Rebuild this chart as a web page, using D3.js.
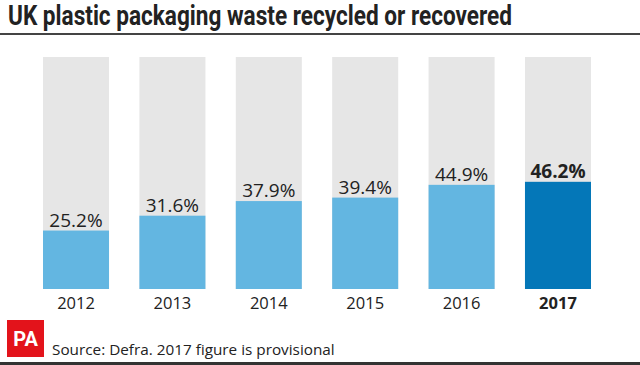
<!DOCTYPE html>
<html><head><meta charset="utf-8">
<script src="https://cdn.jsdelivr.net/npm/d3@7"></script>
<style>body{margin:0;background:#fff}svg{display:block}</style>
</head><body>
<svg id="c" width="640" height="365"></svg>
<script>
const years = ["2012","2013","2014","2015","2016","2017"];
const values = [25.2, 31.6, 37.9, 39.4, 44.9, 46.2];
const highlight = ["2017"];
const title = "UK plastic packaging waste recycled or recovered";
const source = "Source: Defra. 2017 figure is provisional";

const svg = d3.select("#c");
const font = "'Open Sans', 'Noto Sans', sans-serif";
const x = d3.scaleBand().domain(years).range([43, 591]).paddingInner(0.315).paddingOuter(0);
const y = d3.scaleLinear().domain([0, 100]).range([289, 57]);

svg.append("text").attr("x", 8).attr("y", 24.5).text(title)
  .attr("font-family", "'Liberation Sans Narrow','Roboto','Noto Sans',sans-serif")
  .attr("font-weight", "bold").attr("font-size", 27.5).attr("fill", "#222")
  .attr("textLength", 504).attr("lengthAdjust", "spacingAndGlyphs");
svg.append("rect").attr("x", 0).attr("y", 33).attr("width", 640).attr("height", 2).attr("fill", "#444");

const g = svg.append("g");
g.selectAll(".bg").data(years).join("rect")
  .attr("x", d => x(d)).attr("width", x.bandwidth())
  .attr("y", y(100)).attr("height", y(0) - y(100)).attr("fill", "#e6e6e6");
g.selectAll(".bar").data(values).join("rect")
  .attr("x", (d, i) => x(years[i])).attr("width", x.bandwidth())
  .attr("y", d => y(d)).attr("height", d => y(0) - y(d))
  .attr("fill", (d, i) => highlight.includes(years[i]) ? "#0477b8" : "#63b6e1");
g.selectAll(".val").data(values).join("text")
  .attr("x", (d, i) => x(years[i]) + x.bandwidth() / 2).attr("y", d => y(d) - 4)
  .attr("text-anchor", "middle").attr("font-family", font).attr("font-size", 19)
  .attr("font-weight", (d, i) => highlight.includes(years[i]) ? "bold" : "normal")
  .attr("fill", "#222").text(d => d.toFixed(1) + "%");

const axis = d3.axisBottom(x).tickSize(0).tickPadding(8);
const ax = svg.append("g").attr("transform", `translate(0,${y(0)})`).call(axis);
ax.select(".domain").remove();
ax.selectAll("text").attr("font-family", font).attr("font-size", 16.5).attr("fill", "#222")
  .attr("font-weight", d => highlight.includes(d) ? "bold" : "normal");

svg.append("rect").attr("x", 7).attr("y", 320).attr("width", 37).attr("height", 37).attr("fill", "#e3131b");
svg.append("text").attr("x", 25.5).attr("y", 346).attr("text-anchor", "middle")
  .attr("font-family", "'Liberation Sans Narrow','Roboto',sans-serif").attr("font-weight", "bold")
  .attr("font-size", 20).attr("fill", "#fff").text("PA");
svg.append("text").attr("x", 52).attr("y", 355).text(source)
  .attr("font-family", font).attr("font-size", 15.3).attr("fill", "#222");
svg.append("rect").attr("x", 0).attr("y", 362).attr("width", 640).attr("height", 3).attr("fill", "#333");
</script>
</body></html>
